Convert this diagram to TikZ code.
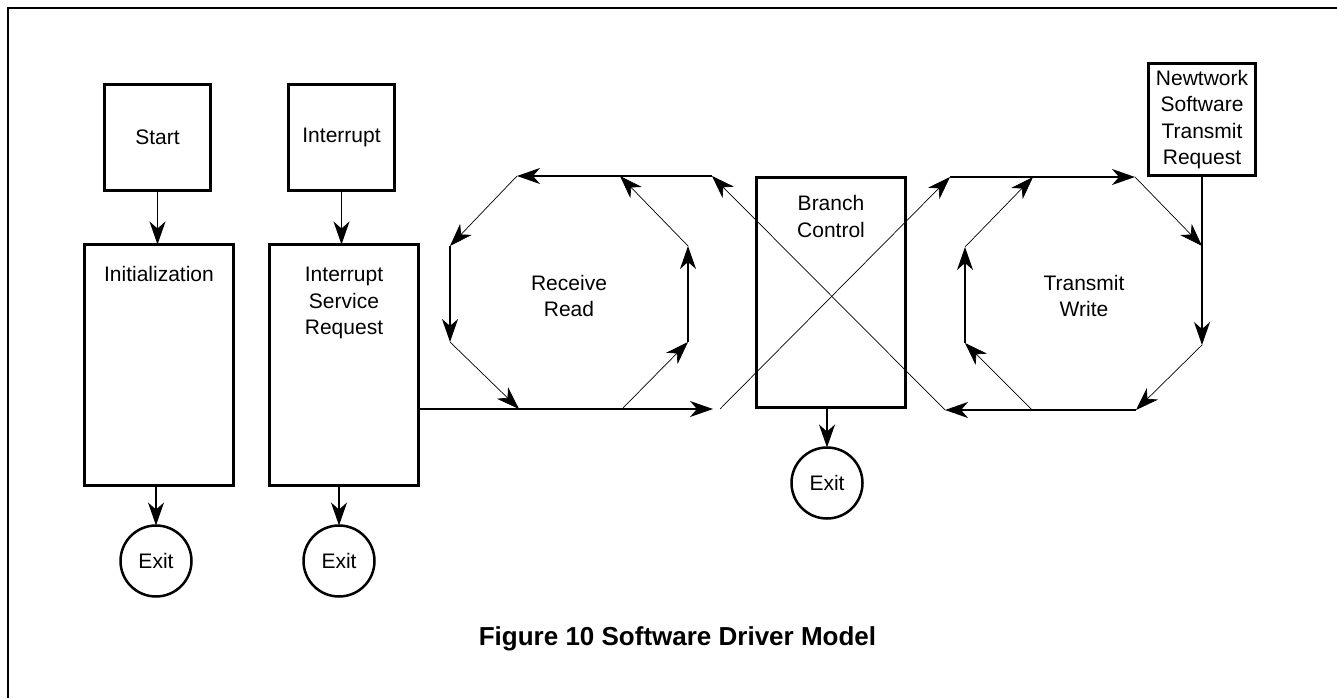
\documentclass[tikz,border=0pt]{standalone}
\usepackage{fontspec}
\setmainfont{Liberation Sans}
\usetikzlibrary{arrows.meta}
\begin{document}
\begin{tikzpicture}[x=1pt,y=-1pt,
  every node/.style={font=\fontsize{21}{26.5}\selectfont, inner sep=0pt, outer sep=0pt},
  blk/.style={draw, line width=3pt, rectangle, inner sep=0pt},
  circ/.style={draw, line width=2.5pt, circle, minimum size=71pt, inner sep=0pt},
  txt/.style={align=center, inner sep=0pt},
  tip/.style={-{Stealth[length=23pt,width=16pt,inset=7pt]}},
  con/.style={line width=1.3pt, tip},
  dia/.style={line width=0.7pt, tip},
  frame/.style={line width=2pt}
]
\useasboundingbox (0,0) rectangle (1337,698);
% frame
\coordinate (fa) at (8,698);
\coordinate (fb) at (8,8);
\coordinate (fc) at (1337,8);
\draw[frame] (fa) -- (fb) -- (fc);

% left column
\node[blk, minimum width=106pt, minimum height=106pt] (start) at (157.5,137.5) {Start};
\node[blk, minimum width=106pt, minimum height=106pt] (intr) at (341.5,137.5) {Interrupt};
\node[blk, minimum width=149pt, minimum height=241pt] (init) at (159,365) {};
\node[txt] (initT) at (159,274) {Initialization};
\node[blk, minimum width=149pt, minimum height=241pt] (isr) at (344,365) {};
\node[txt] (isrT) at (344,303) {Interrupt\\Service\\Request};
\node[circ] (exit1) at (156,561) {Exit};
\node[circ] (exit2) at (339,561) {Exit};

\draw[con] (start.south) -- (start.south |- init.north);
\draw[con] (intr.south) -- (intr.south |- isr.north);
\draw[con] (init.south -| exit1) -- (exit1.north);
\draw[con] (isr.south -| exit2) -- (exit2.north);

% branch control
\node[blk, minimum width=149pt, minimum height=230pt] (branch) at (831,292.5) {};
\node[txt] (branchT) at (831,216.5) {Branch\\Control};
\node[circ] (exit3) at (827,483) {Exit};
\draw[con] (branch.south -| exit3) -- (exit3.north);

% network request
\node[blk, txt, minimum width=107pt, minimum height=112pt] (net) at (1202,119.5) {Newtwork\\Software\\Transmit\\Request};

% receive read octagon
\coordinate (ra) at (712,176);
\coordinate (r1) at (517,176);
\coordinate (r2) at (450,246);
\coordinate (r3) at (450,342);
\coordinate (r4) at (519,409);
\coordinate (rb) at (713,409);
\coordinate (r5) at (622,409);
\coordinate (r6) at (688,342);
\coordinate (r7) at (688,246);
\coordinate (r8) at (620,176);
\node[txt] (rT) at (569,296) {Receive\\Read};

\draw[con] (ra) -- (r1);
\draw[dia] (r1) -- (r2);
\draw[con] (r2) -- (r3);
\draw[dia] (r3) -- (r4);
\draw[con] (isr.east |- rb) -- (rb);
\draw[dia] (r5) -- (r6);
\draw[con] (r6) -- (r7);
\draw[dia] (r7) -- (r8);

% transmit write octagon
\coordinate (ta) at (950,177);
\coordinate (t1) at (1135,177);
\coordinate (t2) at (1202,246);
\coordinate (t3) at (1202,345);
\coordinate (t4) at (1136,410);
\coordinate (tx) at (945,410);
\coordinate (t6) at (1032,410);
\coordinate (t7) at (965,343);
\coordinate (t8) at (965,247);
\coordinate (t9) at (1033,177);
\node[txt] (tT) at (1084,296) {Transmit\\Write};

\draw[con] (ta) -- (t1);
\draw[dia] (t1) -- (t2);
\draw[con] (net.south) -- (t3);
\draw[dia] (t3) -- (t4);
\draw[con] (t4) -- (tx);
\draw[dia] (t6) -- (t7);
\draw[con] (t7) -- (t8);
\draw[dia] (t8) -- (t9);

% cross through branch control
\coordinate (cx1) at (720,409);
\draw[dia] (tx) -- (ra);
\draw[dia] (cx1) -- (ta);

% caption
\node[anchor=base, font=\fontsize{26}{30}\selectfont\bfseries] (cap) at (677.5,645) {Figure 10 Software Driver Model};
\end{tikzpicture}
\end{document}
